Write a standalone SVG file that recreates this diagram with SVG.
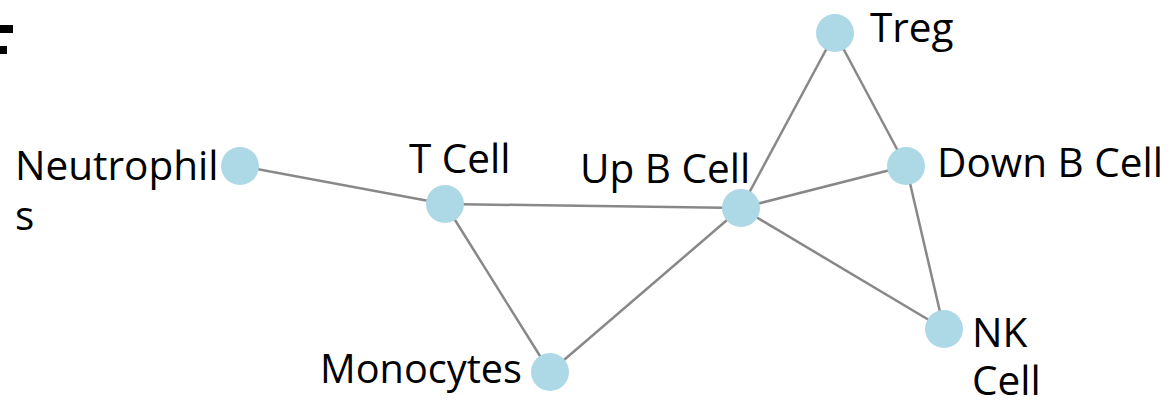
<svg xmlns="http://www.w3.org/2000/svg" width="1173" height="402" viewBox="0 0 1173 402">
<style>
.edge{stroke:#888;stroke-width:2.5;fill:none}
.node{fill:#add8e6}
.lbl{font-family:"Open Sans","DejaVu Sans",sans-serif;font-size:40.5px;fill:#000}
</style>
<rect width="1173" height="402" fill="#fff"/>
<rect x="0" y="25" width="13" height="8" fill="#000"/>
<rect x="0" y="46" width="7" height="8" fill="#000"/>
<g id="connectors">
<line class="edge" x1="240" y1="166" x2="445" y2="204"/>
<line class="edge" x1="445" y1="204" x2="741" y2="208"/>
<line class="edge" x1="445" y1="204" x2="550" y2="372"/>
<line class="edge" x1="550" y1="372" x2="741" y2="208"/>
<line class="edge" x1="741" y1="208" x2="835" y2="33"/>
<line class="edge" x1="741" y1="208" x2="906" y2="166"/>
<line class="edge" x1="741" y1="208" x2="944" y2="329"/>
<line class="edge" x1="835" y1="33" x2="906" y2="166"/>
<line class="edge" x1="906" y1="166" x2="944" y2="329"/>
</g>
<g id="neutrophils"><circle class="node" cx="240" cy="166" r="19"/><text class="lbl" x="15" y="180">Neutrophil</text><text class="lbl" x="15" y="230">s</text></g>
<g id="tcell"><circle class="node" cx="445" cy="204" r="19"/><text class="lbl" x="409" y="173">T Cell</text></g>
<g id="upbcell"><circle class="node" cx="741" cy="208" r="19"/><text class="lbl" x="580" y="183">Up B Cell</text></g>
<g id="treg"><circle class="node" cx="835" cy="33" r="19"/><text class="lbl" x="870" y="42">Treg</text></g>
<g id="downbcell"><circle class="node" cx="906" cy="166" r="19"/><text class="lbl" x="937" y="177">Down B Cell</text></g>
<g id="monocytes"><circle class="node" cx="550" cy="372" r="19"/><text class="lbl" x="320" y="383" textLength="202" lengthAdjust="spacingAndGlyphs">Monocytes</text></g>
<g id="nkcell"><circle class="node" cx="944" cy="329" r="19"/><text class="lbl" x="972" y="347">NK</text><text class="lbl" x="972" y="395">Cell</text></g>
</svg>
